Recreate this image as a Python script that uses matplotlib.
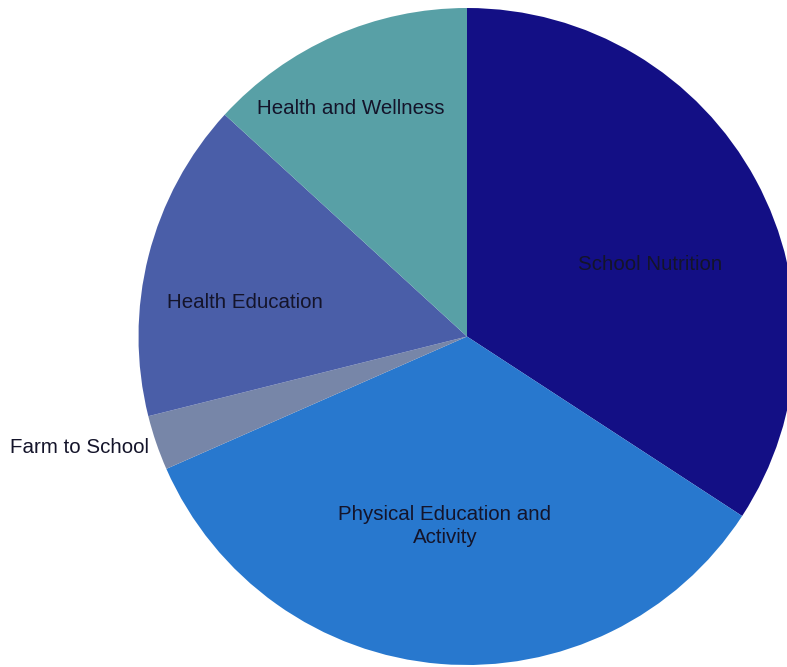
import matplotlib.pyplot as plt

# share of programs by topic, clockwise from 12 o'clock
categorias = ["School Nutrition", "Physical Education and\nActivity", "Farm to School",
              "Health Education", "Health and Wellness"]
valores = [34.2, 34.2, 2.7, 15.7, 13.2]
cores = ["#130f85", "#2878ce", "#7786a8", "#4a5ea8", "#58a0a6"]

# label anchors (relative to pie centre, radius = 1)
pos_rotulos = [(0.557, 0.220), (-0.067, -0.578), (-0.967, -0.337),
               (-0.676, 0.104), (-0.353, 0.695)]
alinhamento = ["center", "center", "right", "center", "center"]

plt.rcParams["font.family"] = ["Liberation Sans", "DejaVu Sans"]

fig = plt.figure(figsize=(7.87, 6.67), dpi=100)
ax = fig.add_axes([0.176, 0.003, 0.8348, 0.985])
ax.pie(valores, colors=cores, startangle=90, counterclock=False, radius=1,
       wedgeprops={"linewidth": 0})
ax.set_xlim(-1, 1)
ax.set_ylim(-1, 1)
ax.set_aspect("auto")
ax.axis("off")

for nome, (x, y), ha in zip(categorias, pos_rotulos, alinhamento):
    ax.text(x, y, nome, ha=ha, va="center", fontsize=14.8, color="#14142a",
            multialignment="center", linespacing=1.25, clip_on=False)

fig.savefig("out.png", dpi=100)
